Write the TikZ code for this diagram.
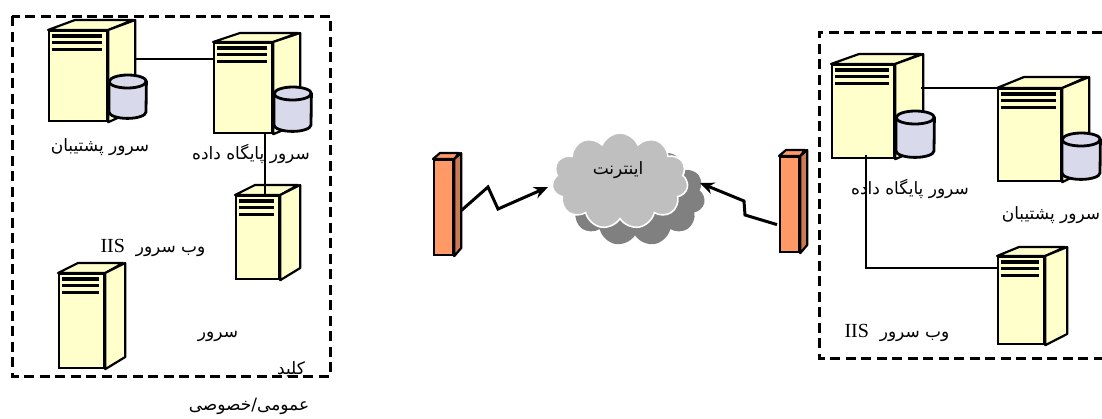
\documentclass[tikz,border=0pt]{standalone}
\usepackage{fontspec}
\usepackage{xcolor}
\usetikzlibrary{shapes.geometric, shapes.symbols, arrows.meta, calc}
\setmainfont{Liberation Serif}
\newfontfamily\arabicfont[Script=Arabic]{DejaVu Sans}
\TeXXeTstate=1
\definecolor{srvyellow}{RGB}{255, 255, 204}
\definecolor{diskblue}{RGB}{217, 217, 236}
\definecolor{fworange}{RGB}{255, 153, 102}
\definecolor{fwside}{RGB}{204, 122, 82}
\newcommand{\fa}[1]{{\arabicfont\beginR #1\endR}}
\newcommand{\iis}{\beginL{\fontspec{Liberation Serif}\fontsize{20}{22}\selectfont IIS}\endL}
\newcommand{\serverbox}[7]{
  \node[srv, anchor=north west, minimum width=#4pt, minimum height=#5pt] (#1) at (#2,#3) {};
  \draw[srvface] (#1.north west) -- ++(#6,-#7) -- ++(#4,0) -- (#1.north east) -- cycle;
  \draw[srvface] (#1.north east) -- ++(#6,-#7) -- ++(0,#5) -- (#1.south east) -- cycle;
  \foreach \b in {0,1,2}
    \draw[srvbar] ($(#1.north west)+(4,6+\b*6.7)$) -- +(#4-8,0);
}
\newcommand{\diskbox}[5]{
  \node[anchor=north west, inner sep=0pt, minimum width=#4pt, minimum height=#5pt] (#1) at (#2,#3) {};
  \draw[diskface] ($(#1.north west)+(0,6.5)$) -- ($(#1.south west)+(0,-6.5)$)
    arc[start angle=180, end angle=360, x radius=#4pt/2, y radius=6.5pt]
    -- ($(#1.north east)+(0,6.5)$)
    arc[start angle=0, end angle=180, x radius=#4pt/2, y radius=6.5pt] -- cycle;
  \draw[diskface, fill=none] ($(#1.north west)+(0,6.5)$)
    arc[start angle=180, end angle=360, x radius=#4pt/2, y radius=6.5pt];
}
\newcommand{\firewallbox}[3]{
  \node[fw, anchor=north west] (#1) at (#2,#3) {};
  \draw[fwface, fill=fworange] (#1.north west) -- ++(7,-6) -- ++(19,0) -- (#1.north east) -- cycle;
  \draw[fwface, fill=fwside] (#1.north east) -- ++(7,-6) -- ++(0,95) -- (#1.south east) -- cycle;
}

\begin{document}
\begin{tikzpicture}[
    x=1pt, y=-1pt,
    srv/.style={rectangle, draw=black, fill=srvyellow, line width=2.2pt, inner sep=0pt},
    srvface/.style={draw=black, fill=srvyellow, line width=2.2pt, line join=round},
    srvbar/.style={black, line width=3.2pt},
    diskface/.style={draw=black, fill=diskblue, line width=2.8pt},
    fw/.style={rectangle, draw=black, fill=fworange, line width=2.2pt, inner sep=0pt,
               minimum width=19pt, minimum height=95pt},
    fwface/.style={draw=black, line width=2.2pt, line join=round},
    zone/.style={draw=black, line width=3pt, dash pattern=on 10pt off 5.5pt},
    lnk/.style={black, line width=2.6pt},
    fl/.style={-{Stealth[length=14pt, width=12pt]}, black, line width=3pt},
    lbl/.style={font=\fontsize{17}{20}\selectfont, inner sep=0pt},
    netcloud/.style={cloud, cloud puffs=11, cloud puff arc=135, aspect=1.4, inner sep=0pt,
                     minimum width=136pt, minimum height=96pt}
]
\useasboundingbox (0,0) rectangle (1102,418);

\draw[zone] (12,16) rectangle (330,376);
\draw[zone] (1102,32) -- (819,32) -- (819,358) -- (1102,358);

\serverbox{bkl}{48}{30}{58}{90}{27}{10}
\serverbox{dbl}{213}{42}{58}{90}{27}{9}
\serverbox{webl}{235}{195}{43}{83}{20}{10}
\serverbox{srvl}{58}{273}{45}{94}{20}{10}
\diskbox{dkbl}{109}{75}{37}{43}
\diskbox{dkdl}{274}{87}{37}{44}

\serverbox{dbr}{831}{64}{62}{93}{28}{10}
\serverbox{bkr}{997}{88}{63}{92}{27}{11}
\serverbox{webr}{997}{256}{46}{87}{22}{9}
\diskbox{dkdr}{896}{111}{38}{46}
\diskbox{dkbr}{1062}{133}{38}{46}

\coordinate (dbr-out) at (921,88);
\coordinate (dbl-out) at (135,59);
\coordinate (dbr-drop) at (866,155);
\coordinate (dbr-turn) at (866,268);
\draw[lnk] (dbl-out) -- (dbl.west |- dbl-out);
\draw[lnk] (dbl.south -| 265,0) -- (webl.north -| 265,0);
\draw[lnk] (dbr-out) -- (bkr.north west);
\draw[lnk] (dbr-drop) -- (dbr-turn) -- (webr.west |- dbr-turn);

\node[netcloud, fill=black!50, minimum width=140pt, minimum height=100pt] (cloudback) at (635,196) {};
\node[netcloud, fill=black!25, draw=white, line width=1.6pt] (cloudfront) at (620,181) {};
\node[lbl] (netlabel) at (618,170) {\fa{اینترنت}};

\firewallbox{fwl}{433}{159}
\firewallbox{fwr}{779}{156}

\coordinate (cloudin) at (548,187);
\coordinate (cloudout) at (700,183);
\draw[fl] ([xshift=7pt,yshift=-3pt]fwl.east) -- (488,187) -- (498,209) -- (cloudin);
\draw[fl] ([xshift=-2pt,yshift=-20pt]fwr.west) -- (745,215) -- (744,201) -- (cloudout);

\node[lbl] (t1) at (100,147) {\fa{سرور پشتیبان}};
\node[lbl] (t2) at (251,154) {\fa{سرور پایگاه داده}};
\node[lbl] (t3) at (153,248) {\fa{وب سرور \ \iis}};
\node[lbl] (t4) at (218,336) {\fa{سرور}};
\node[lbl] (t5) at (291,369) {\fa{کلید}};
\node[lbl] (t6) at (249,406) {\fa{عمومی/خصوصی}};
\node[lbl] (t7) at (910,189) {\fa{سرور پایگاه داده}};
\node[lbl] (t8) at (1051,215) {\fa{سرور پشتیبان}};
\node[lbl] (t9) at (897,333) {\fa{وب سرور \ \iis}};
\end{tikzpicture}
\end{document}
